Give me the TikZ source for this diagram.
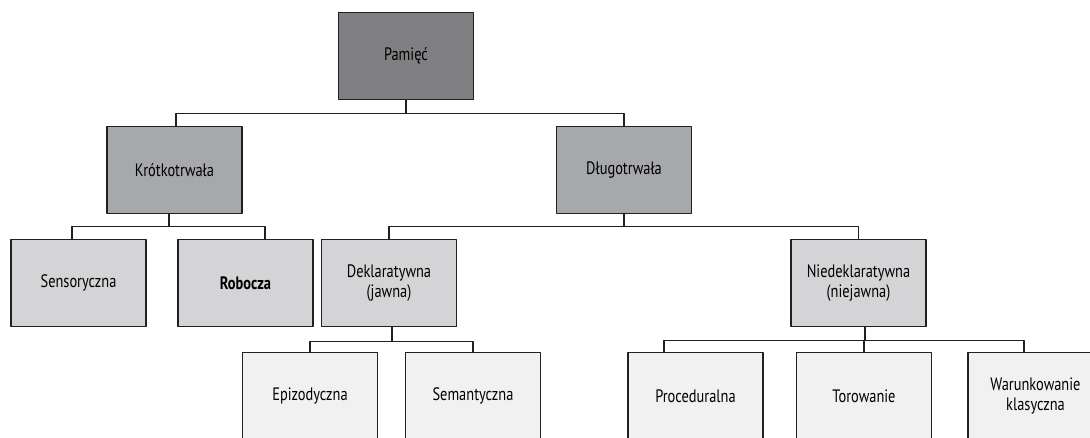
\documentclass[tikz,border=0pt]{standalone}
\usepackage{fontspec}
\setmainfont[FakeStretch=0.8]{PT Sans}
\definecolor{boxline}{HTML}{231F20}
\definecolor{lvone}{HTML}{808083}
\definecolor{lvtwo}{HTML}{A7A8AB}
\definecolor{lvthree}{HTML}{D4D4D6}
\definecolor{lvfour}{HTML}{F1F1F2}
\begin{document}
\begin{tikzpicture}[x=1pt,y=-1pt,line join=round,font=\fontsize{18}{20}\selectfont,
  box/.style={draw=boxline,line width=1.4pt,minimum width=135pt,minimum height=87pt,inner sep=2pt,align=center},
  link/.style={draw=boxline,line width=1.4pt}]
\def \ytwo{170};
\def \ythree{283};
\def \yfour{396};
\useasboundingbox (0,0) rectangle (1090,437);
\clip (0,0) rectangle (1090,437);
\node[box,fill=lvone] (pam) at (406,56) {Pamięć};
\foreach \n/\x/\t in {kro/174.5/Krótkotrwała,dlu/624/Długotrwała}{\node[box,fill=lvtwo] (\n) at (\x,\ytwo) {\t};}
\foreach \n/\x/\t in {sen/78.5/Sensoryczna,rob/245.5/\textbf{Robocza},dek/389/Deklaratywna\\(jawna),nie/858.5/Niedeklaratywna\\(niejawna)}{\node[box,fill=lvthree] (\n) at (\x,\ythree) {\t};}
\foreach \n/\x/\t in {epi/310/Epizodyczna,sem/473/Semantyczna,pro/695.5/Proceduralna,tor/864/Torowanie,war/1035.5/Warunkowanie\\klasyczna}{\node[box,fill=lvfour] (\n) at (\x,\yfour) {\t};}
\draw[link] (pam.south) -- ++(0,13) coordinate (bone);
\draw[link] ([xshift=1.5pt]kro.north) |- (bone) -| (dlu.north);
\draw[link] ([xshift=-5.5pt]kro.south) -- ++(0,12) coordinate (btwo);
\draw[link] ([xshift=-6.5pt]sen.north) |- (btwo) -| ([xshift=19.5pt]rob.north);
\draw[link] (dlu.south) -- ++(0,12) coordinate (bthree);
\draw[link] (dek.north) |- (bthree) -| (nie.north);
\draw[link] ([xshift=3pt]dek.south) -- ++(0,14) coordinate (bfour);
\draw[link] (epi.north) |- (bfour) -| (sem.north);
\draw[link] ([xshift=6.5pt]nie.south) -- ++(0,13) coordinate (bfive);
\draw[link] ([xshift=-31.5pt]pro.north) |- (bfive) -| ([xshift=-11.5pt]war.north);
\draw[link] (tor.north) -- (tor.north |- bfive);
\end{tikzpicture}
\end{document}
